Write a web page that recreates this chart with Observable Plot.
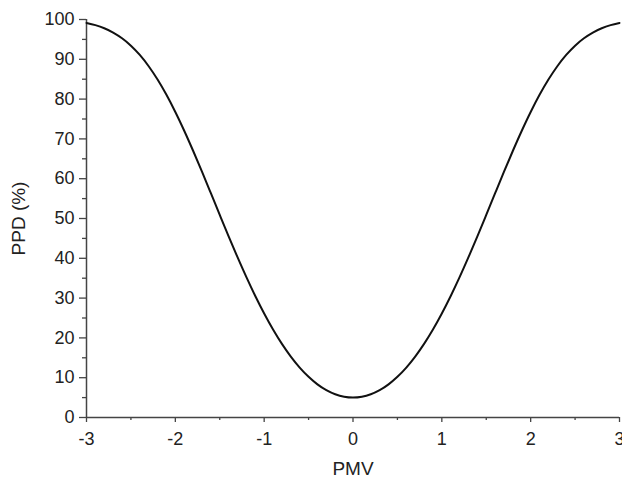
<!DOCTYPE html>
<html>
<head>
<meta charset="utf-8">
<script src="https://cdn.jsdelivr.net/npm/d3@7"></script>
<script src="https://cdn.jsdelivr.net/npm/@observablehq/plot@0.6"></script>
<style>
  html, body { margin: 0; padding: 0; background: #fff; }
  #chart svg { overflow: visible; }
</style>
</head>
<body>
<div id="chart"></div>
<script>
// PMV values (x) and PPD values (y, %)
const pmv = [-3.0,-2.9,-2.8,-2.7,-2.6,-2.5,-2.4,-2.3,-2.2,-2.1,-2.0,-1.9,-1.8,-1.7,-1.6,-1.5,-1.4,-1.3,-1.2,-1.1,-1.0,-0.9,-0.8,-0.7,-0.6,-0.5,-0.4,-0.3,-0.2,-0.1,0.0,0.1,0.2,0.3,0.4,0.5,0.6,0.7,0.8,0.9,1.0,1.1,1.2,1.3,1.4,1.5,1.6,1.7,1.8,1.9,2.0,2.1,2.2,2.3,2.4,2.5,2.6,2.7,2.8,2.9,3.0];
const ppd = [99.12,98.58,97.81,96.73,95.29,93.43,91.10,88.26,84.91,81.07,76.76,72.05,67.02,61.75,56.35,50.90,45.51,40.27,35.25,30.52,26.12,22.10,18.49,15.30,12.55,10.23,8.33,6.87,5.83,5.21,5.00,5.21,5.83,6.87,8.33,10.23,12.55,15.30,18.49,22.10,26.12,30.52,35.25,40.27,45.51,50.90,56.35,61.75,67.02,72.05,76.76,81.07,84.91,88.26,91.10,93.43,95.29,96.73,97.81,98.58,99.12];
const xTicks = [-3,-2,-1,0,1,2,3];
const xMinor = [-2.5,-1.5,-0.5,0.5,1.5,2.5];
const yTicks = [0,10,20,30,40,50,60,70,80,90,100];
const yMinor = [5,15,25,35,45,55,65,75,85,95];
const xLabel = "PMV";
const yLabel = "PPD (%)";

const data = pmv.map((x, i) => ({x, y: ppd[i]}));
const axisColor = "#444";

const chart = Plot.plot({
  width: 622,
  height: 478,
  marginLeft: 86,
  marginRight: 3,
  marginTop: 19,
  marginBottom: 61,
  style: {fontFamily: "'Liberation Sans', Arial, sans-serif", fontSize: "18px", color: "#222", background: "#fff"},
  x: {domain: [-3, 3]},
  y: {domain: [0, 100]},
  marks: [
    Plot.axisX(xMinor, {tickSize: 3, tickFormat: () => "", stroke: axisColor, strokeWidth: 1.3, label: null}),
    Plot.axisX(xTicks, {tickSize: 5, tickPadding: 10, tickFormat: d => String(d), stroke: axisColor, strokeWidth: 1.3,
      fill: "#222", fontSize: 18, label: null}),
    Plot.axisY(yMinor, {tickSize: 4, tickFormat: () => "", stroke: axisColor, strokeWidth: 1.3, label: null}),
    Plot.axisY(yTicks, {tickSize: 7, tickPadding: 5, tickFormat: d => String(d), stroke: axisColor, strokeWidth: 1.3,
      fill: "#222", fontSize: 18, label: null}),
    Plot.axisX({ticks: [], label: xLabel, labelAnchor: "center", labelArrow: "none", labelOffset: 57, fontSize: 19, fill: "#222"}),
    Plot.axisY({ticks: [], label: yLabel, labelAnchor: "center", labelArrow: "none", labelOffset: 75, fontSize: 19, fill: "#222"}),
    Plot.ruleX([-3], {stroke: axisColor, strokeWidth: 1.5}),
    Plot.ruleY([0], {stroke: axisColor, strokeWidth: 1.5}),
    Plot.line(data, {x: "x", y: "y", stroke: "#111", strokeWidth: 2, curve: "catmull-rom"})
  ]
});
document.getElementById("chart").appendChild(chart);
</script>
</body>
</html>
